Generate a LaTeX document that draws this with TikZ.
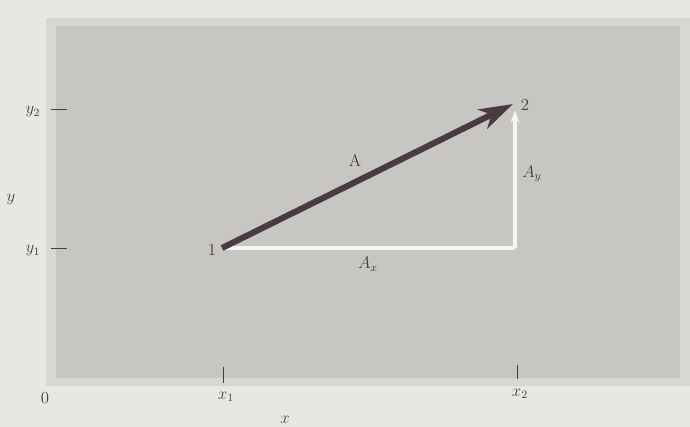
\documentclass[tikz,border=0pt]{standalone}
\usetikzlibrary{arrows.meta}
\definecolor{pageBg}{HTML}{E9E7E4}
\definecolor{panelFill}{HTML}{C8C6C2}
\definecolor{panelEdge}{HTML}{D9D7D4}
\definecolor{vecDark}{HTML}{4A3B42}
\definecolor{labelInk}{HTML}{404040}
\begin{document}
\begin{tikzpicture}[
    x=0.025cm, y=-0.025cm,
    vecLabel/.style={text=labelInk, inner sep=1pt, font=\large},
    vecMain/.style={line width=4.3pt, draw=vecDark, -{Stealth[length=24pt, width=15pt, inset=7pt]}},
    vecComp/.style={line width=2.2pt, draw=white!85!panelFill},
    axisTick/.style={line width=0.6pt, draw=labelInk}
]
% page and grey panel
\useasboundingbox (0,0) rectangle (690,427);
\fill[pageBg] (0,0) rectangle (690,427);
\fill[panelEdge] (46,18) rectangle (690,386);
\fill[panelFill] (56,26) rectangle (680,378);

% end points of the vector
\coordinate (p1) at (222,248);
\coordinate (p2) at (513,104);
\coordinate (corner) at (515,248);

% components
\draw[vecComp] (p1) -- (corner);
\draw[vecComp, -{Stealth[length=9pt, width=6pt]}] (corner) -- (515,110);

% vector A
\draw[vecMain] (p1) -- (p2);

\node[vecLabel] (n1) at (212,250) {1};
\node[vecLabel] (n2) at (525,105) {2};
\node[vecLabel] (lA) at (355,160) {A};
\node[vecLabel] (lAx) at (368,264) {$A_x$};
\node[vecLabel] (lAy) at (532,174) {$A_y$};

% y axis marks
\node[vecLabel] (ly2) at (33,112) {$y_2$};
\node[vecLabel] (ly1) at (33,251) {$y_1$};
\node[vecLabel] (ly) at (11,200) {$y$};
\draw[axisTick] (51,109) -- (67,109);
\draw[axisTick] (51,248) -- (67,248);

% x axis marks
\node[vecLabel] (l0) at (45,398) {0};
\node[vecLabel] (lx1) at (226,397) {$x_1$};
\node[vecLabel] (lx2) at (520,394) {$x_2$};
\node[vecLabel] (lx) at (285,420) {$x$};
\draw[axisTick] (223,367) -- (223,383);
\draw[axisTick] (517,365) -- (517,379);
\end{tikzpicture}
\end{document}
